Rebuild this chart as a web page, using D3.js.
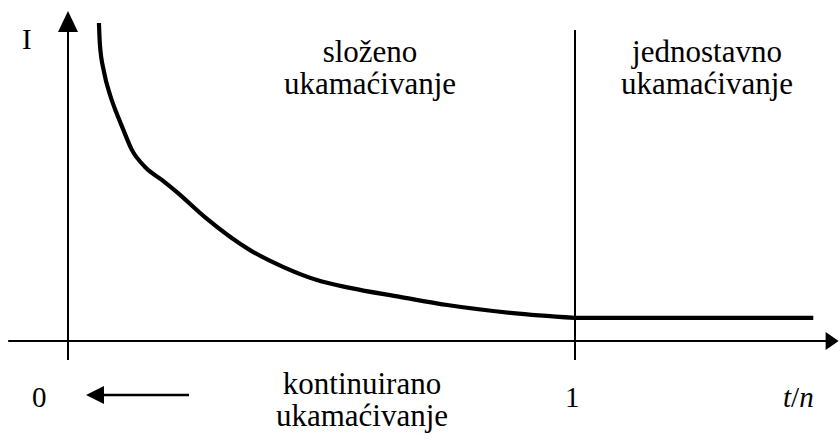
<!DOCTYPE html>
<html>
<head>
<meta charset="utf-8">
<script src="https://cdn.jsdelivr.net/npm/d3@7"></script>
<style>
  html, body { margin: 0; padding: 0; background: #fff; }
  svg { display: block; }
</style>
</head>
<body>
<svg id="chart" width="840" height="439"></svg>
<script>
// ---- data (t/n, I) ----
const curveT = [0.061, 0.063, 0.071, 0.083, 0.095, 0.107, 0.126, 0.152, 0.185, 0.217, 0.270, 0.359, 0.424, 0.491, 0.556, 0.655, 0.748, 0.878, 1.0];
const curveI = [10.6, 9.87, 8.97, 8.2, 7.63, 7.13, 6.37, 5.8, 5.37, 4.93, 4.13, 3.03, 2.47, 2.03, 1.77, 1.47, 1.2, 0.93, 0.77];
const flatT = [1.0, 1.47];
const flatI = [0.77, 0.77];
const xTickValues = [0, 1];
const xTickLabels = ["0", "1"];
const regionLabels = [["složeno", "ukamaćivanje"], ["jednostavno", "ukamaćivanje"], ["kontinuirano", "ukamaćivanje"]];
const axisTitleY = "I";
const axisTitleX = ["t", "/", "n"];

const FONT = "Liberation Serif";
const svg = d3.select("#chart");
const x = d3.scaleLinear().domain([0, 1]).range([68, 575]);
const y = d3.scaleLinear().domain([0, 10]).range([341, 41]);

// axes
svg.append("line").attr("x1", x(-0.118)).attr("x2", x(1.5)).attr("y1", y(0)).attr("y2", y(0))
  .attr("stroke", "#000").attr("stroke-width", 2);
svg.append("path")
  .attr("d", `M${x(1.52)},${y(0)} L${x(1.52) - 13},${y(0) - 9} L${x(1.52) - 13},${y(0) + 9} Z`)
  .attr("fill", "#000");
svg.append("line").attr("x1", x(0)).attr("x2", x(0)).attr("y1", y(-0.63)).attr("y2", y(10.5))
  .attr("stroke", "#000").attr("stroke-width", 2);
svg.append("path")
  .attr("d", `M${x(0)},${y(11)} L${x(0) - 10},${y(11) + 21} L${x(0) + 10},${y(11) + 21} Z`)
  .attr("fill", "#000");

// vertical line at t/n = 1
svg.append("line").attr("x1", x(1)).attr("x2", x(1)).attr("y1", y(10.37)).attr("y2", y(-0.63))
  .attr("stroke", "#000").attr("stroke-width", 2);

// curve
const line = d3.line().x(d => x(d[0])).y(d => y(d[1])).curve(d3.curveMonotoneX);
svg.append("path").datum(d3.zip(curveT, curveI)).attr("d", line)
  .attr("fill", "none").attr("stroke", "#000").attr("stroke-width", 4.2);
svg.append("path").datum(d3.zip(flatT, flatI)).attr("d", d3.line().x(d => x(d[0])).y(d => y(d[1])))
  .attr("fill", "none").attr("stroke", "#000").attr("stroke-width", 4.2);

// tick labels
svg.selectAll("text.tick").data(xTickValues).enter().append("text")
  .attr("class", "tick")
  .attr("x", (d, i) => x(d) + (i === 0 ? -36 : -10))
  .attr("y", 407).attr("font-family", FONT).attr("font-size", 29)
  .text((d, i) => xTickLabels[i]);

// axis titles
svg.append("text").attr("x", 22).attr("y", 49).attr("font-family", FONT).attr("font-size", 29).text(axisTitleY);
const tn = svg.append("text").attr("x", 783).attr("y", 407).attr("font-family", FONT).attr("font-size", 29);
axisTitleX.forEach((s, i) => {
  tn.append("tspan").attr("font-family", FONT).attr("font-style", i === 1 ? "normal" : "italic").text(s);
});

// left arrow (continuous compounding)
svg.append("line").attr("x1", 189).attr("x2", 100).attr("y1", 395).attr("y2", 395)
  .attr("stroke", "#000").attr("stroke-width", 2.5);
svg.append("path").attr("d", "M86,395 L104,386 L104,404 Z").attr("fill", "#000");

// region labels
const labelPos = [[370, 62], [707, 62], [362, 394]];
regionLabels.forEach((lines, i) => {
  lines.forEach((s, j) => {
    svg.append("text")
      .attr("text-anchor", "middle")
      .attr("font-family", FONT)
      .attr("font-size", 31)
      .attr("x", labelPos[i][0])
      .attr("y", labelPos[i][1] + j * 32)
      .text(s);
  });
});
</script>
</body>
</html>
